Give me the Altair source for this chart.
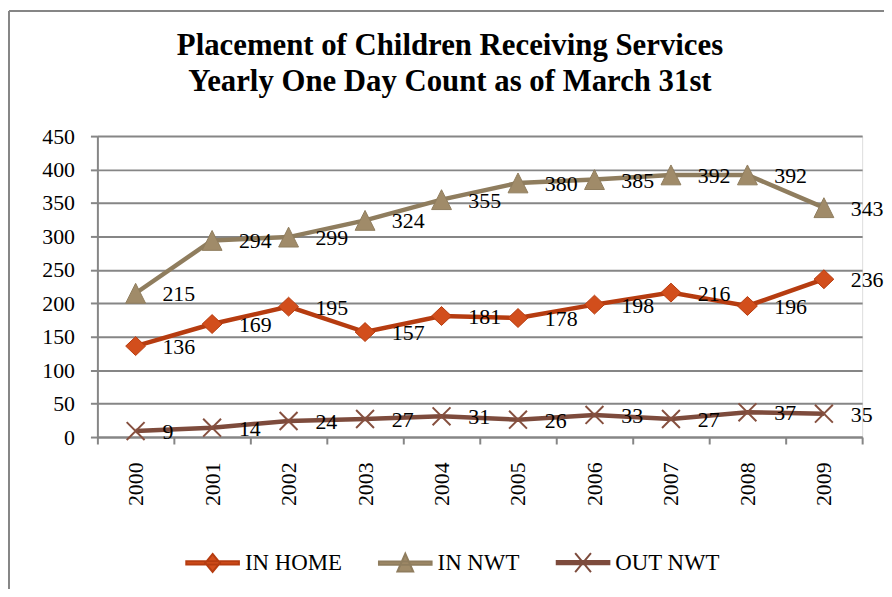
import altair as alt
import pandas as pd

years = ["2000", "2001", "2002", "2003", "2004", "2005", "2006", "2007", "2008", "2009"]
in_home = [136, 169, 195, 157, 181, 178, 198, 216, 196, 236]
in_nwt = [215, 294, 299, 324, 355, 380, 385, 392, 392, 343]
out_nwt = [9, 14, 24, 27, 31, 26, 33, 27, 37, 35]
series_names = ["IN HOME", "IN NWT", "OUT NWT"]
title_lines = ["Placement of Children Receiving Services", "Yearly One Day Count as of March 31st"]
y_ticks = [0, 50, 100, 150, 200, 250, 300, 350, 400, 450]

line_colors = ["#B63C10", "#8F7D5E", "#7D4B3C"]
marker_fills = ["#D24E1C", "#A08B69", "#7D4B3C"]
plot_shapes = [
    "M0,-0.95L1,0L0,0.95L-1,0Z",
    "M0,-1L1,1L-1,1Z",
    "M-0.9,-0.9L0.9,0.9M-0.9,0.9L0.9,-0.9",
]
legend_shapes = [
    "M-1,-0.06L1,-0.06L1,0.06L-1,0.06Z M0,-0.34L0.28,0L0,0.34L-0.28,0Z",
    "M-1,-0.06L1,-0.06L1,0.06L-1,0.06Z M0,-0.36L0.3,0.32L-0.3,0.32Z",
    "M-1,-0.06L1,-0.06L1,0.06L-1,0.06Z M-0.3,-0.36L0.3,0.36M-0.3,0.36L0.3,-0.36",
]

rows = []
for name, vals in zip(series_names, [in_home, in_nwt, out_nwt]):
    for yr, v in zip(years, vals):
        rows.append({"series": name, "year": yr, "value": v})
df = pd.DataFrame(rows)

FONT = "Liberation Serif"
W, H = 770, 303

x_axis = alt.Axis(
    title=None, labelAngle=270, labelFont=FONT, labelFontSize=22, labelColor="black",
    labelPadding=18, tickSize=7, tickBand="extent", domainColor="#868686", domainWidth=2,
    tickColor="#868686", tickWidth=2, grid=False,
)
y_axis = alt.Axis(
    title=None, values=y_ticks, labelFont=FONT, labelFontSize=22, labelColor="black",
    labelPadding=16, tickSize=7, domainColor="#868686", domainWidth=2, tickColor="#868686",
    tickWidth=2, grid=True, gridColor="#868686", gridWidth=2,
)
X = alt.X("year:O", scale=alt.Scale(domain=years, paddingInner=0, paddingOuter=0), axis=x_axis)
Y = alt.Y("value:Q", scale=alt.Scale(domain=[0, 450], nice=False), axis=y_axis)

base = alt.Chart(df)
layers = []

frame = alt.Chart(alt.Data(values=[{"k": 1}]))
layers.append(frame.mark_rule(color="#868686", strokeWidth=2).encode(
    x=alt.value(-89), y=alt.value(-126), y2=alt.value(470)))
layers.append(frame.mark_rule(color="#868686", strokeWidth=2).encode(
    x=alt.value(-89), x2=alt.value(800), y=alt.value(-126)))

for name, lc in zip(series_names, line_colors):
    layers.append(base.transform_filter(alt.datum.series == name).mark_line(
        color=lc, strokeWidth=4.5).encode(x=X, y=Y))

for name, lc, mf, shp in zip(series_names, line_colors, marker_fills, plot_shapes):
    if name == "OUT NWT":
        mk = base.transform_filter(alt.datum.series == name).mark_point(
            shape=shp, size=400, filled=False, stroke="#86503F", strokeWidth=2, opacity=1)
    else:
        mk = base.transform_filter(alt.datum.series == name).mark_point(
            shape=shp, size=400, filled=True, fill=mf, stroke=lc, strokeWidth=1, opacity=1)
    layers.append(mk.encode(x=X, y=Y))

layers.append(base.mark_text(
    align="left", baseline="middle", dx=27, dy=1, font=FONT, fontSize=22, color="black"
).encode(x=X, y=Y, text="value:Q"))

leg = alt.Legend(
    orient="none", legendX=88.5, legendY=401.5, direction="horizontal", title=None,
    labelFont=FONT, labelFontSize=23, labelColor="black", symbolSize=2809,
    symbolStrokeWidth=2, labelOffset=5, columnPadding=33, padding=0, symbolOpacity=1,
)
layers.append(base.transform_filter("false").mark_point(
    filled=True, opacity=1, size=2809, strokeWidth=2).encode(
    fill=alt.Fill("series:N", scale=alt.Scale(domain=series_names, range=marker_fills), legend=leg),
    stroke=alt.Stroke("series:N", scale=alt.Scale(domain=series_names, range=line_colors), legend=leg),
    shape=alt.Shape("series:N", scale=alt.Scale(domain=series_names, range=legend_shapes), legend=leg),
))

chart = alt.layer(*layers).properties(
    width=W, height=H,
    title=alt.TitleParams(
        text=title_lines, font=FONT, fontSize=31, fontWeight="bold", color="black",
        anchor="middle", frame="group", dx=-30, dy=89, lineHeight=37, offset=0,
    ),
    autosize=alt.AutoSizeParams(type="none"),
    padding={"left": 90, "top": 127, "right": 22, "bottom": 151},
).configure_view(stroke=None).configure(background="white", font=FONT).configure_axis(
    labelFont=FONT
).configure_text(font=FONT).configure_legend(labelFont=FONT)

chart.save("out.html", embed_options={"renderer": "svg", "actions": False})
